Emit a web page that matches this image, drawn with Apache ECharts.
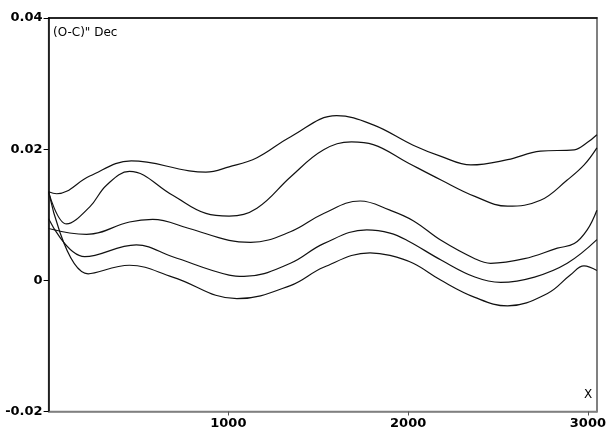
<!DOCTYPE html>
<html>
<head>
<meta charset="utf-8">
<script src="https://cdn.jsdelivr.net/npm/echarts@6/dist/echarts.min.js"></script>
<style>html,body{margin:0;padding:0;background:#fff}#c{width:609px;height:434px}</style>
</head>
<body>
<div id="c"></div>
<script>
// Data
const xTickLabels = [1000, 2000, 3000];
const yTickLabels = [-0.02, 0, 0.02, 0.04];

const xA = [0,45,229,460,782,875,1004,1159,1347,1602,1806,2028,2183,2349,2553,2736,2924,2996,3050];
const yA = [0.0135,0.0132,0.0159,0.0182,0.0167,0.0165,0.0173,0.0187,0.0219,0.0251,0.0237,0.0206,0.0189,0.0176,0.0184,0.0197,0.0199,0.0210,0.0222];

const xB = [0,100,229,322,450,688,875,1004,1159,1347,1530,1685,1806,2000,2183,2371,2553,2736,2885,2979,3050];
const yB = [0.0135,0.0086,0.0112,0.0145,0.0166,0.0130,0.0102,0.0098,0.0110,0.0158,0.0199,0.0211,0.0207,0.0179,0.0153,0.0128,0.0113,0.0122,0.0153,0.0176,0.0202];

const xC = [0,211,450,579,782,1004,1124,1345,1530,1733,1899,2028,2183,2371,2459,2647,2830,2924,2996,3050];
const yC = [0.0079,0.0070,0.0089,0.0093,0.0079,0.0061,0.0058,0.0074,0.0102,0.0121,0.0107,0.0091,0.0061,0.0033,0.0026,0.0033,0.0049,0.0056,0.0077,0.0107];

const xD = [0,201,488,690,1004,1087,1345,1530,1770,1899,2000,2183,2371,2515,2703,2885,3050];
const yD = [0.0094,0.0036,0.0054,0.0036,0.0008,0.0006,0.0026,0.0056,0.0077,0.0072,0.0060,0.0031,0.0005,-0.0003,0.0005,0.0026,0.0062];

const xE = [0,220,450,690,1048,1345,1530,1788,1899,2028,2183,2371,2553,2775,2902,2978,3050];
const yE = [0.0135,0.0010,0.0023,0.0005,-0.0028,-0.0008,0.0020,0.0042,0.0038,0.0026,0.0000,-0.0026,-0.0039,-0.0020,0.0008,0.0022,0.0015];

const seriesX = [xA, xB, xC, xD, xE];
const seriesY = [yA, yB, yC, yD, yE];

const labelFont = { fontFamily: 'DejaVu Sans', fontWeight: 'bold', fontSize: 13, color: '#000' };

const chart = echarts.init(document.getElementById('c'), null, { renderer: 'canvas' });
chart.setOption({
  animation: false,
  backgroundColor: '#fff',
  grid: { left: 48.6, right: 9.7, top: 18, bottom: 22.5, containLabel: false,
          show: true, borderColor: '#808080', borderWidth: 1.5, backgroundColor: 'transparent' },
  xAxis: [
    {
      type: 'value', min: 0, max: 3050, interval: 1000, position: 'bottom',
      axisLine: { show: true, onZero: false, lineStyle: { color: '#808080', width: 1.5 } },
      axisTick: { show: true, customValues: xTickLabels, length: 4, lineStyle: { color: '#555', width: 1 } },
      axisLabel: Object.assign({ customValues: xTickLabels, margin: 6, formatter: v => String(v) }, labelFont),
      splitLine: { show: false }
    },
    {
      type: 'value', min: 0, max: 3050, position: 'top',
      axisLine: { show: true, onZero: false, lineStyle: { color: '#000', width: 1.5 } },
      axisTick: { show: false }, axisLabel: { show: false }, splitLine: { show: false }
    }
  ],
  yAxis: [
    {
      type: 'value', min: -0.02, max: 0.04, interval: 0.02, position: 'left',
      axisLine: { show: true, onZero: false, lineStyle: { color: '#000', width: 1.5 } },
      axisTick: { show: true, length: 5, lineStyle: { color: '#000', width: 1 } },
      axisLabel: Object.assign({ margin: 6, formatter: v => (Math.abs(v) < 1e-9 ? '0' : v.toFixed(2)) }, labelFont),
      splitLine: { show: false }
    },
    {
      type: 'value', min: -0.02, max: 0.04, position: 'right',
      axisLine: { show: true, onZero: false, lineStyle: { color: '#808080', width: 2 } },
      axisTick: { show: false }, axisLabel: { show: false }, splitLine: { show: false }
    }
  ],
  series: seriesX.map((xs, i) => ({
    type: 'line',
    xAxisIndex: 0, yAxisIndex: 0,
    data: xs.map((x, j) => [x, seriesY[i][j]]),
    smooth: 0.4,
    symbol: 'none',
    lineStyle: { color: '#111', width: 1.2 }
  })),
  graphic: [
    { type: 'text', left: 53, top: 27, style: { text: '(O-C)" Dec', font: '12px "DejaVu Sans"', fill: '#000' } },
    { type: 'text', left: 584, top: 389, style: { text: 'X', font: '12px "DejaVu Sans"', fill: '#000' } }
  ]
});
</script>
</body>
</html>
